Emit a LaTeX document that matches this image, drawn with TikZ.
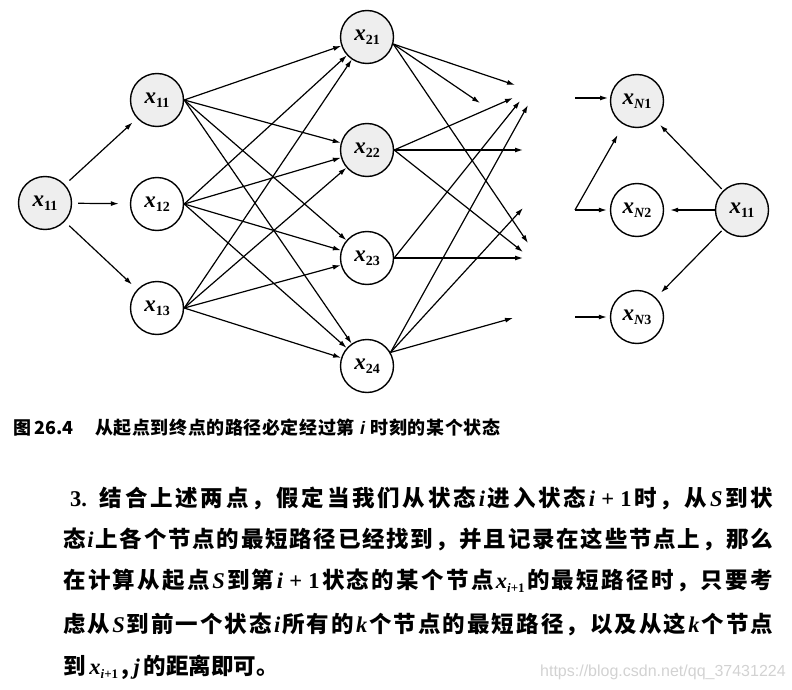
\documentclass[tikz,border=0pt]{standalone}
\usepackage{fontspec}
\usetikzlibrary{arrows.meta}
\newfontfamily\cjk{Noto Sans CJK SC}
\newfontfamily\lsans{Liberation Sans}
\newfontfamily\lser{Liberation Serif}
\newcommand{\mi}[1]{{\lser\bfseries\itshape #1}}
\newcommand{\mr}[1]{{\lser\bfseries #1}}
\newcommand{\nx}[1]{\mi{x}\raisebox{-4pt}{\fontsize{14}{15}\selectfont\mr{#1}}}
\newcommand{\nxN}[1]{\mi{x}\raisebox{-4pt}{\fontsize{14}{15}\selectfont\mi{N}\mr{#1}}}
\newcommand{\xsub}{\mi{x}\raisebox{-4pt}{\fontsize{13}{14}\selectfont\mi{i}\mr{+1}}}
\newcommand{\capi}{{\lsans\itshape\ i\ }}
\makeatletter
\newcommand{\spreadline}[2]{\hbox to #1{\let\sp@sep\relax\@tfor\sp@item:=#2\do{\sp@sep\sp@item\let\sp@sep\hfil}}}
\makeatother
\tikzset{
  st/.style={circle,draw,line width=1.4pt,minimum size=53pt,inner sep=0pt,
    font=\fontsize{23}{26}\selectfont},
  shd/.style={st,fill=gray!13},
  ar/.style={-{Latex[length=8pt,width=5pt]},line width=1.2pt},
  para/.style={anchor=west,inner sep=0pt,font=\fontsize{22.5}{26}\selectfont\cjk\bfseries},
  capt/.style={anchor=west,inner sep=0pt,font=\fontsize{18}{20}\selectfont\cjk\bfseries},
}
\begin{document}
\begin{tikzpicture}[x=1pt,y=-1pt]
\useasboundingbox (0,0) rectangle (792,690);
% nodes
\node[shd] (L11) at (45,203) {\nx{11}};
\node[shd] (A1) at (157,100) {\nx{11}};
\node[st]  (A2) at (157,204) {\nx{12}};
\node[st]  (A3) at (157,308) {\nx{13}};
\node[shd] (B1) at (367,37) {\nx{21}};
\node[shd] (B2) at (367,150) {\nx{22}};
\node[st]  (B3) at (367,258) {\nx{23}};
\node[st]  (B4) at (367,366) {\nx{24}};
\node[shd] (N1) at (637,101) {\nxN{1}};
\node[st]  (N2) at (637,210) {\nxN{2}};
\node[st]  (N3) at (637,317) {\nxN{3}};
\node[shd] (R11) at (742,210) {\nx{11}};
% first stage
\draw[ar,shorten <=6pt,shorten >=6pt] (L11) -- (A1);
\draw[ar,shorten <=6pt,shorten >=11pt] (L11) -- (A2);
\draw[ar,shorten <=6pt,shorten >=7pt] (L11) -- (A3);
% second stage
\foreach \a in {A1,A2,A3}{
  \foreach \b in {B1,B2,B3,B4}{
    \draw[ar] (\a.east) -- (\b);
  }
}
% dangling ends
\coordinate (d1) at (515,85);
\coordinate (d2) at (480,103);
\coordinate (d3) at (528,243);
\coordinate (d4) at (513,98);
\coordinate (d5) at (523,150);
\coordinate (d6) at (523,252);
\coordinate (d7) at (520,101);
\coordinate (d8) at (523,258);
\coordinate (d9) at (528,105);
\coordinate (d10) at (523,208);
\coordinate (d11) at (513,318);
\foreach \d in {d1,d2,d3}{\draw[ar] (B1.-15) -- (\d);}
\foreach \d in {d4,d5,d6}{\draw[ar] (B2.east) -- (\d);}
\foreach \d in {d7,d8}{\draw[ar] (B3.east) -- (\d);}
\foreach \d in {d9,d10,d11}{\draw[ar] (B4.30) -- (\d);}
% last stage
\coordinate (e1) at (575,98);
\coordinate (e1t) at (608,98);
\coordinate (e2) at (575,210);
\coordinate (e3) at (575,317);
\draw[ar] (e1) -- (e1t);
\draw[ar,shorten >=12pt] (e2) -- (N1);
\draw[ar,shorten >=3pt] (e2) -- (N2);
\draw[ar,shorten >=3pt] (e3) -- (N3);
\draw[ar,shorten <=2pt,shorten >=6pt] (R11) -- (N1);
\draw[ar,shorten >=6pt] (R11) -- (N2);
\draw[ar,shorten <=2pt,shorten >=7pt] (R11) -- (N3);
% caption
\node[capt] (c1) at (13,428) {图};
\node[capt] (c2) at (34,428) {26.4};
\node[capt] (c3) at (95,428) {\spreadline{405pt}{从起点到终点的路径必定经过第\capi 时刻的某个状态}};
% paragraph
\node[para] (p1) at (70,498) {\spreadline{703pt}{{\mr{3.}\hspace{10pt}}结合上述两点，假定当我们从状态{\mi{i}}进入状态{\mi{i}\;\mr{+}\;\mr{1}}时，从{\mi{S}}到状}};
\node[para] (p2) at (63,539) {\spreadline{710pt}{态{\mi{i}}上各个节点的最短路径已经找到，并且记录在这些节点上，那么}};
\node[para] (p3) at (63,581) {\spreadline{710pt}{在计算从起点{\mi{S}}到第{\mi{i}\;\mr{+}\;\mr{1}}状态的某个节点{\xsub}的最短路径时，只要考}};
\node[para] (p4) at (63,624) {\spreadline{710pt}{虑从{\mi{S}}到前一个状态{\mi{i}}所有的{\mi{k}}个节点的最短路径，以及从这{\mi{k}}个节点}};
\node[para] (p5) at (63,667) {到\,\xsub\,,\,\mi{j}\,的距离即可。};
\node[anchor=west,inner sep=0pt,text=gray!35,font=\fontsize{16}{18}\selectfont\lsans] (wm) at (540,672) {https://blog.csdn.net/qq\_37431224};
\end{tikzpicture}
\end{document}
